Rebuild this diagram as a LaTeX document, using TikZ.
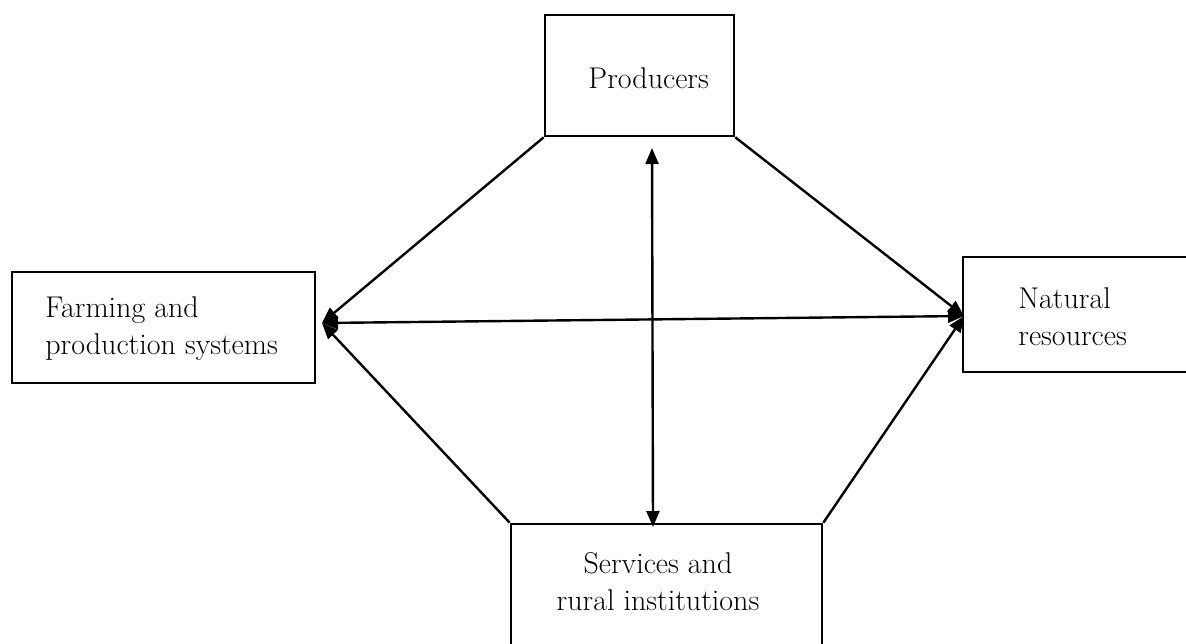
\documentclass[tikz,border=0pt]{standalone}
\usetikzlibrary{arrows.meta}
\begin{document}
\begin{tikzpicture}[x=0.5pt,y=-0.5pt,
  box/.style={draw, line width=1.3pt, rectangle, inner sep=0pt},
  lbl/.style={inner sep=0pt, font=\fontsize{15}{18.5}\selectfont},
  conn/.style={line width=1.2pt},
  tip/.style={-{Triangle[length=8pt,width=6.5pt]}},
  tips/.style={{Triangle[length=8pt,width=6.5pt]}-{Triangle[length=8pt,width=6.5pt]}}]
\useasboundingbox (0,0) rectangle (1186,643);
\clip (0,0) rectangle (1186,643);
% boxes
\node[box, minimum width=94.5pt, minimum height=60.5pt] (P) at (639.5,75.5) {};
\node[box, minimum width=151.5pt, minimum height=55.5pt] (F) at (163.5,327.5) {};
\node[box, minimum width=120pt, minimum height=57.5pt] (N) at (1083,314.5) {};
\node[box, minimum width=155.5pt, minimum height=62pt] (S) at (666.5,586) {};
% labels (base anchor = baseline of the last line)
\node[lbl, anchor=base west] (Pt) at (588,88) {Producers};
\node[lbl, anchor=base west, align=left] (Ft) at (45,354) {Farming and\\production systems};
\node[lbl, anchor=base west, align=left] (Nt) at (1018,345) {Natural\\resources};
\node[lbl, anchor=base, align=center] (St) at (658,610) {Services and\\rural institutions};
% convergence points
\coordinate (L) at (322,323);
\coordinate (R) at (964,316);
\coordinate (Vt) at (652,148);
\coordinate (Vb) at (653,527);
% connectors
\draw[conn, tip] (P.south west) -- (L);
\draw[conn, tip] (P.south east) -- (R);
\draw[conn, tip] (S.north west) -- (L);
\draw[conn, tip] (S.north east) -- (R);
\draw[conn, tips] (L) -- (R);
\draw[conn, tips] (Vt) -- (Vb);
\end{tikzpicture}
\end{document}
